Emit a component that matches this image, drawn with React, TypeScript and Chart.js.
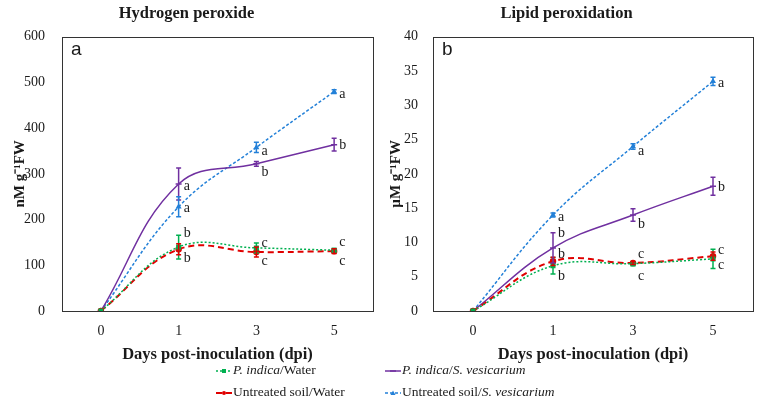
import React, { useEffect, useRef } from "react";
import { Chart, registerables } from "chart.js";

Chart.register(...registerables);

// ---------- data ----------
const days = ["0", "1", "3", "5"];

// Hydrogen peroxide (nM g-1 FW)
const h2o2PiWater = [0, 140, 138, 133];
const h2o2PiWaterErr = [0, 26, 11, 4];
const h2o2UtWater = [0, 135, 129, 131];
const h2o2UtWaterErr = [0, 12, 11, 5];
const h2o2PiSv = [0, 278, 322, 364];
const h2o2PiSvErr = [0, 35, 5, 14];
const h2o2UtSv = [0, 228, 358, 480];
const h2o2UtSvErr = [0, 22, 11, 4];

const h2o2PiWaterLetters = ["", "b", "c", "c"];
const h2o2PiWaterLetterAt = [null, 170, 148, 150];
const h2o2UtWaterLetters = ["", "b", "c", "c"];
const h2o2UtWaterLetterAt = [null, 115, 108, 108];
const h2o2PiSvLetters = ["", "a", "b", "b"];
const h2o2PiSvLetterAt = [null, 272, 304, 362];
const h2o2UtSvLetters = ["", "a", "a", "a"];
const h2o2UtSvLetterAt = [null, 225, 349, 474];

// Lipid peroxidation (µM g-1 FW)
const lipidPiWater = [0, 6.6, 6.9, 7.6];
const lipidPiWaterErr = [0, 1.2, 0.3, 1.4];
const lipidUtWater = [0, 7.25, 7.0, 8.0];
const lipidUtWaterErr = [0, 0.6, 0.2, 0.6];
const lipidPiSv = [0, 9.2, 14.0, 18.2];
const lipidPiSvErr = [0, 2.2, 0.9, 1.3];
const lipidUtSv = [0, 14.0, 24.0, 33.5];
const lipidUtSvErr = [0, 0.3, 0.4, 0.6];

const lipidPiWaterLetters = ["", "b", "c", "c"];
const lipidPiWaterLetterAt = [null, 5.1, 5.0, 6.6];
const lipidUtWaterLetters = ["", "b", "c", "c"];
const lipidUtWaterLetterAt = [null, 8.2, 8.3, 8.85];
const lipidPiSvLetters = ["", "b", "b", "b"];
const lipidPiSvLetterAt = [null, 11.4, 12.7, 18.0];
const lipidUtSvLetters = ["", "a", "a", "a"];
const lipidUtSvLetterAt = [null, 13.7, 23.3, 33.2];

const seriesNames = [
  "P. indica/Water",
  "Untreated soil/Water",
  "P. indica/S. vesicarium",
  "Untreated soil/S. vesicarium",
];

// ---------- styles ----------
const SERIF = "'Liberation Serif', 'Times New Roman', serif";
const TEXT = "#1a1a1a";
const GREEN = "#00B050";
const RED = "#E00000";
const PURPLE = "#7030A0";
const BLUE = "#2380D8";

const seriesStyle = [
  { color: GREEN, dash: [2, 2], width: 1.5, point: "rect", radius: 2.5 },
  { color: RED, dash: [6, 4], width: 2, point: "circle", radius: 2.5 },
  { color: PURPLE, dash: [], width: 1.5, point: "line", radius: 3 },
  { color: BLUE, dash: [3, 2], width: 1.5, point: "triangle", radius: 2 },
];

const boxPlugin = {
  id: "box",
  beforeDatasetsDraw(chart: any) {
    const { ctx, chartArea: a } = chart;
    ctx.save();
    ctx.strokeStyle = "#333";
    ctx.lineWidth = 1;
    ctx.strokeRect(Math.round(a.left) + 0.5, Math.round(a.top) + 0.5, Math.round(a.right - a.left), Math.round(a.bottom - a.top));
    ctx.restore();
  },
};

const errorPlugin = {
  id: "errbars",
  afterDatasetsDraw(chart: any) {
    const { ctx } = chart;
    const ys = chart.scales.y;
    chart.data.datasets.forEach((ds: any, i: number) => {
      if (!ds.errors) return;
      const meta = chart.getDatasetMeta(i);
      ctx.save();
      ctx.strokeStyle = ds.borderColor;
      ctx.lineWidth = 1.5;
      ctx.setLineDash([]);
      ds.data.forEach((v: number, j: number) => {
        const e = ds.errors[j];
        if (!e) return;
        const x = meta.data[j].x;
        const y1 = ys.getPixelForValue(v + e);
        const y2 = ys.getPixelForValue(v - e);
        ctx.beginPath();
        ctx.moveTo(x, y1);
        ctx.lineTo(x, y2);
        ctx.moveTo(x - 2.5, y1);
        ctx.lineTo(x + 2.5, y1);
        ctx.moveTo(x - 2.5, y2);
        ctx.lineTo(x + 2.5, y2);
        ctx.stroke();
      });
      ctx.restore();
    });
  },
};

const letterPlugin = {
  id: "letters",
  afterDatasetsDraw(chart: any) {
    const { ctx } = chart;
    const ys = chart.scales.y;
    ctx.save();
    ctx.fillStyle = TEXT;
    ctx.font = `14px ${SERIF}`;
    ctx.textAlign = "left";
    ctx.textBaseline = "middle";
    chart.data.datasets.forEach((ds: any, i: number) => {
      if (!ds.letters) return;
      const meta = chart.getDatasetMeta(i);
      ds.letters.forEach((l: string, j: number) => {
        if (!l || ds.letterAt[j] == null) return;
        ctx.fillText(l, meta.data[j].x + 5, ys.getPixelForValue(ds.letterAt[j]));
      });
    });
    // panel label
    const a = chart.chartArea;
    ctx.font = `19px 'Liberation Sans', Arial, sans-serif`;
    ctx.fillText(chart.options.panelLabel, a.left + 9, a.top + 13);
    ctx.restore();
  },
};

function buildDatasets(values: number[][], errs: number[][], letters: string[][], letterAt: any[][]) {
  return values.map((v, i) => {
    const s = seriesStyle[i];
    return {
      label: seriesNames[i],
      data: v,
      errors: errs[i],
      letters: letters[i],
      letterAt: letterAt[i],
      borderColor: s.color,
      backgroundColor: s.color,
      borderDash: s.dash,
      borderWidth: s.width,
      pointStyle: s.point,
      pointRadius: s.radius,
      pointBorderWidth: 1.5,
      tension: 0.4,
      fill: false,
    };
  });
}

function Panel(props: {
  left: number;
  width: number;
  title: string;
  yTitle: string;
  max: number;
  step: number;
  panelLabel: string;
  axisWidth: number;
  padRight: number;
  tickPad: number;
  yTitlePad: number;
  datasets: any[];
}) {
  const ref = useRef<HTMLCanvasElement>(null);
  useEffect(() => {
    if (!ref.current) return;
    const chart = new Chart(ref.current, {
      type: "line",
      data: { labels: days, datasets: props.datasets },
      options: {
        animation: false,
        responsive: false,
        maintainAspectRatio: false,
        events: [],
        panelLabel: props.panelLabel,
        layout: { padding: { left: 0, right: props.padRight, top: 0, bottom: 0 } },
        plugins: {
          legend: { display: false },
          tooltip: { enabled: false },
          title: {
            display: true,
            text: props.title,
            color: TEXT,
            font: { family: SERIF, size: 16.5, weight: "bold", lineHeight: 1.2 },
            padding: { top: 4, bottom: 13 },
          },
        },
        scales: {
          x: {
            offset: true,
            grid: { display: false, drawTicks: false, offset: true },
            border: { display: false },
            ticks: { padding: 12, color: TEXT, font: { family: SERIF, size: 14 } },
            title: {
              display: true,
              text: "Days post-inoculation (dpi)",
              color: TEXT,
              font: { family: SERIF, size: 16.5, weight: "bold", lineHeight: 1.2 },
              padding: 0,
            },
            afterFit: (s: any) => {
              s.height = 54;
            },
          },
          y: {
            min: 0,
            max: props.max,
            grid: { display: false, drawTicks: false },
            border: { display: false },
            ticks: { stepSize: props.step, padding: props.tickPad, color: TEXT, font: { family: SERIF, size: 14 } },
            title: {
              display: true,
              text: props.yTitle,
              color: TEXT,
              font: { family: SERIF, size: 15, weight: "bold", lineHeight: 1.2 },
              padding: { top: props.yTitlePad, bottom: 0 },
            },
            afterFit: (s: any) => {
              s.width = props.axisWidth;
            },
          },
        },
      } as any,
      plugins: [boxPlugin, errorPlugin, letterPlugin],
    });
    return () => chart.destroy();
  }, []);
  return (
    <canvas
      ref={ref}
      width={props.width}
      height={365}
      style={{ position: "absolute", left: props.left, top: 0, width: props.width, height: 365 }}
    />
  );
}

function LegendSwatch({ idx }: { idx: number }) {
  const s = seriesStyle[idx];
  let marker: any = null;
  if (s.point === "rect") marker = <rect x={6} y={5} width={4} height={4} fill={s.color} />;
  else if (s.point === "circle") marker = <circle cx={8} cy={7} r={2} fill={s.color} />;
  else if (s.point === "line") marker = <line x1={5} y1={7} x2={11} y2={7} stroke={s.color} strokeWidth={1.5} />;
  else marker = <polygon points="8,4.5 10.5,9 5.5,9" fill={s.color} />;
  return (
    <svg width={16} height={14} style={{ verticalAlign: "middle", marginRight: 1 }}>
      <line
        x1={0}
        y1={7}
        x2={16}
        y2={7}
        stroke={s.color}
        strokeWidth={s.width}
        strokeDasharray={s.dash.length ? s.dash.join(",") : undefined}
      />
      {marker}
    </svg>
  );
}

function legendText(i: number) {
  if (i === 0)
    return (
      <>
        <i>P. indica</i>/Water
      </>
    );
  if (i === 1) return <>Untreated soil/Water</>;
  if (i === 2)
    return (
      <>
        <i>P. indica</i>/<i>S. vesicarium</i>
      </>
    );
  return (
    <>
      Untreated soil/<i>S. vesicarium</i>
    </>
  );
}

export default function App() {
  const leftSets = buildDatasets(
    [h2o2PiWater, h2o2UtWater, h2o2PiSv, h2o2UtSv],
    [h2o2PiWaterErr, h2o2UtWaterErr, h2o2PiSvErr, h2o2UtSvErr],
    [h2o2PiWaterLetters, h2o2UtWaterLetters, h2o2PiSvLetters, h2o2UtSvLetters],
    [h2o2PiWaterLetterAt, h2o2UtWaterLetterAt, h2o2PiSvLetterAt, h2o2UtSvLetterAt]
  );
  const rightSets = buildDatasets(
    [lipidPiWater, lipidUtWater, lipidPiSv, lipidUtSv],
    [lipidPiWaterErr, lipidUtWaterErr, lipidPiSvErr, lipidUtSvErr],
    [lipidPiWaterLetters, lipidUtWaterLetters, lipidPiSvLetters, lipidUtSvLetters],
    [lipidPiWaterLetterAt, lipidUtWaterLetterAt, lipidPiSvLetterAt, lipidUtSvLetterAt]
  );
  const legendPos = [
    { left: 216, top: 362 },
    { left: 216, top: 384 },
    { left: 385, top: 362 },
    { left: 385, top: 384 },
  ];
  return (
    <div style={{ position: "absolute", left: 0, top: 0, width: 759, height: 420, background: "#fff", overflow: "hidden" }}>
      <Panel
        left={0}
        width={380}
        title="Hydrogen peroxide"
        yTitle="nM g⁻¹FW"
        max={600}
        step={100}
        panelLabel="a"
        axisWidth={62}
        padRight={7}
        tickPad={17}
        yTitlePad={11}
        datasets={leftSets}
      />
      <Panel
        left={380}
        width={379}
        title="Lipid peroxidation"
        yTitle="µM g⁻¹FW"
        max={40}
        step={5}
        panelLabel="b"
        axisWidth={53}
        padRight={6}
        tickPad={15}
        yTitlePad={7}
        datasets={rightSets}
      />
      {seriesNames.map((n, i) => (
        <div
          key={n}
          style={{
            position: "absolute",
            left: legendPos[i].left,
            top: legendPos[i].top,
            height: 16,
            lineHeight: "16px",
            fontFamily: SERIF,
            fontSize: 13.5,
            color: TEXT,
            whiteSpace: "nowrap",
          }}
        >
          <LegendSwatch idx={i} />
          {legendText(i)}
        </div>
      ))}
    </div>
  );
}
